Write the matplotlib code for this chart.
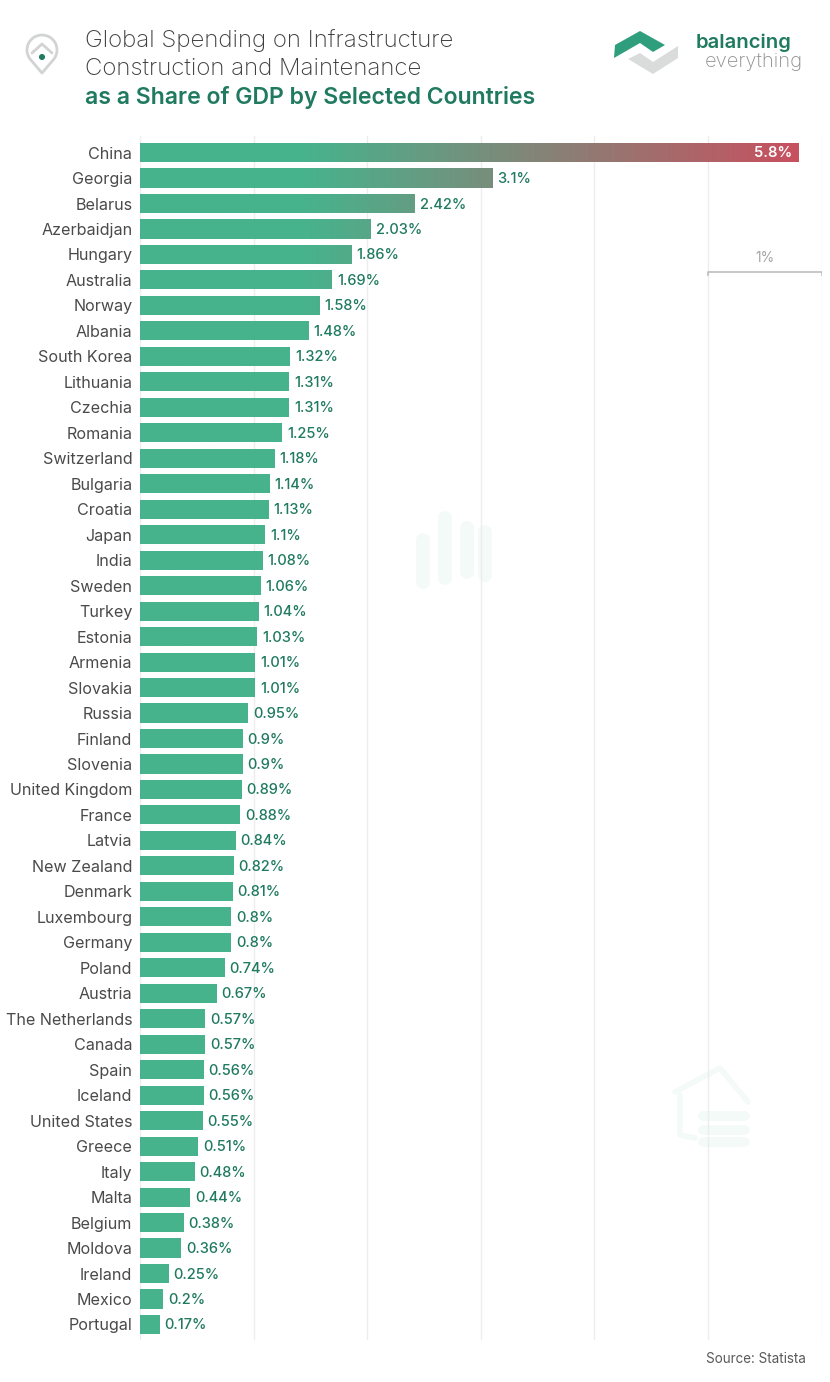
import numpy as np
import matplotlib.pyplot as plt
from matplotlib.colors import LinearSegmentedColormap
from matplotlib.patches import Polygon, Arc, Circle

# --------------------------------------------------------------
# Data
countries = ['China', 'Georgia', 'Belarus', 'Azerbaidjan', 'Hungary', 'Australia', 'Norway', 'Albania',
             'South Korea', 'Lithuania', 'Czechia', 'Romania', 'Switzerland', 'Bulgaria', 'Croatia', 'Japan',
             'India', 'Sweden', 'Turkey', 'Estonia', 'Armenia', 'Slovakia', 'Russia', 'Finland', 'Slovenia',
             'United Kingdom', 'France', 'Latvia', 'New Zealand', 'Denmark', 'Luxembourg', 'Germany', 'Poland',
             'Austria', 'The Netherlands', 'Canada', 'Spain', 'Iceland', 'United States', 'Greece', 'Italy',
             'Malta', 'Belgium', 'Moldova', 'Ireland', 'Mexico', 'Portugal']
shares = [5.8, 3.1, 2.42, 2.03, 1.86, 1.69, 1.58, 1.48, 1.32, 1.31, 1.31, 1.25, 1.18, 1.14, 1.13, 1.1,
          1.08, 1.06, 1.04, 1.03, 1.01, 1.01, 0.95, 0.9, 0.9, 0.89, 0.88, 0.84, 0.82, 0.81, 0.8, 0.8, 0.74,
          0.67, 0.57, 0.57, 0.56, 0.56, 0.55, 0.51, 0.48, 0.44, 0.38, 0.36, 0.25, 0.2, 0.17]
value_labels = ['5.8%', '3.1%', '2.42%', '2.03%', '1.86%', '1.69%', '1.58%', '1.48%', '1.32%', '1.31%', '1.31%',
                '1.25%', '1.18%', '1.14%', '1.13%', '1.1%', '1.08%', '1.06%', '1.04%', '1.03%', '1.01%', '1.01%',
                '0.95%', '0.9%', '0.9%', '0.89%', '0.88%', '0.84%', '0.82%', '0.81%', '0.8%', '0.8%', '0.74%',
                '0.67%', '0.57%', '0.57%', '0.56%', '0.56%', '0.55%', '0.51%', '0.48%', '0.44%', '0.38%', '0.36%',
                '0.25%', '0.2%', '0.17%']

# --------------------------------------------------------------
# Settings
W, H = 830, 1382
GREEN = '#47B38D'
RED = '#C8505F'
DARK_GREEN = '#1F7A5F'
TEXT = '#4A4A4A'
GRID = '#EDEDED'
plt.rcParams['font.family'] = ['Inter', 'DejaVu Sans']

fig = plt.figure(figsize=(W / 100, H / 100), dpi=100, facecolor='white')

# overlay in pixel coordinates, for the header and the icons
bg = fig.add_axes([0, 0, 1, 1], zorder=0)
bg.set_xlim(0, W)
bg.set_ylim(H, 0)
bg.axis('off')

# --------------------------------------------------------------
# Faint watermark icons
WATERMARK = '#F3FAF7'
for x, y0, y1 in [(423, 540, 582), (445, 518, 578), (467, 528, 572), (485, 532, 575)]:
    bg.plot([x, x], [y0, y1], color=WATERMARK, lw=10, solid_capstyle='round')
bg.plot([675, 720, 748], [1092, 1068, 1102], color=WATERMARK, lw=4, solid_capstyle='round')
bg.plot([680, 680, 695], [1095, 1135, 1138], color=WATERMARK, lw=4, solid_capstyle='round')
for y in [1116, 1130, 1142]:
    bg.plot([703, 745], [y, y], color=WATERMARK, lw=7, solid_capstyle='round')

# --------------------------------------------------------------
# Chart
left, right, top, bottom = 140, 821.5, 136, 1340
ax = fig.add_axes([left / W, 1 - bottom / H, (right - left) / W, (bottom - top) / H], zorder=1)
ax.patch.set_alpha(0)

y_pos = np.arange(len(countries))
cmap = LinearSegmentedColormap.from_list('bar_fade', [(0, GREEN), (0.25, GREEN), (1, RED)])
gradient = np.linspace(0, 1, 512).reshape(1, -1)

ax.grid(axis='x', color=GRID, lw=1)
ax.set_axisbelow(True)
bars = ax.barh(y_pos, shares, height=0.75, color=GREEN)

# colour fades with the x position, so long bars turn red towards the end
for bar in bars:
    x0, y0 = bar.get_x(), bar.get_y()
    img = ax.imshow(gradient, extent=(0, 5.8, y0 + bar.get_height(), y0), cmap=cmap, aspect='auto', zorder=3)
    img.set_clip_path(bar)

ax.set_xlim(0, 6)
ax.set_ylim(len(countries) - 1 + 0.61, -0.65)

ax.set_yticks(y_pos, countries)
ax.set_xticks(range(7))
ax.tick_params(axis='y', length=0, pad=5.5, labelsize=11.6, labelcolor=TEXT)
ax.tick_params(axis='x', length=0, labelbottom=False)
for spine in ax.spines.values():
    spine.set_visible(False)

for i, (value, label) in enumerate(zip(shares, value_labels)):
    if i == 0:
        ax.text(value - 0.06, i + 0.03, label, color='white', ha='right', va='center', fontsize=10.6, fontweight='semibold', zorder=4)
    else:
        ax.text(value + 0.045, i + 0.04, label, color=DARK_GREEN, ha='left', va='center', fontsize=10.5, fontweight='medium', zorder=4)

# 1% scale bracket
bracket_y = 4.69
ax.plot([5, 5, 6, 6], [bracket_y + 0.12, bracket_y, bracket_y, bracket_y + 0.12], color='#BDBDBD', lw=1.2, zorder=2)
ax.text(5.5, bracket_y - 0.55, '1%', color='#A5A5A5', ha='center', va='center', fontsize=10)

# --------------------------------------------------------------
# Header
bg.text(85, 41, 'Global Spending on Infrastructure', color='#3F3F3F', fontsize=17.3, fontweight='light', va='center')
bg.text(85, 69, 'Construction and Maintenance', color='#3F3F3F', fontsize=17.3, fontweight='light', va='center')
bg.text(85, 97, 'as a Share of GDP by Selected Countries', color=DARK_GREEN, fontsize=16.6, fontweight='semibold', va='center')

# pin icon
PIN = '#D2D4D3'
bg.add_patch(Arc((42, 50), 30, 30, theta1=-215, theta2=35, angle=0, color=PIN, lw=2))
bg.plot([30, 42, 54], [59, 73, 59], color=PIN, lw=2, solid_capstyle='round')
bg.plot([32, 42, 52], [53, 44, 53], color=PIN, lw=2, solid_capstyle='round')
bg.add_patch(Circle((42, 57), 2.3, color=DARK_GREEN))

# logo
bg.add_patch(Polygon([(628, 59), (640, 53), (653, 62), (678, 46), (678, 58), (653, 74)], closed=True, color='#DADCDB', lw=0))
bg.add_patch(Polygon([(614, 58), (615, 45), (640, 31), (665, 45), (653, 52), (640, 43)], closed=True, color='#2F9E7C', lw=0))
bg.text(696, 43, 'balancing', color=DARK_GREEN, fontsize=14.6, fontweight='semibold', va='center')
bg.text(705, 62, 'everything', color='#8E8E8E', fontsize=14.5, fontweight='light', va='center')

# source
bg.text(806, 1359, 'Source: Statista', color='#5A5A5A', fontsize=9.7, ha='right', va='center')

fig.savefig('out.png', dpi=100)
